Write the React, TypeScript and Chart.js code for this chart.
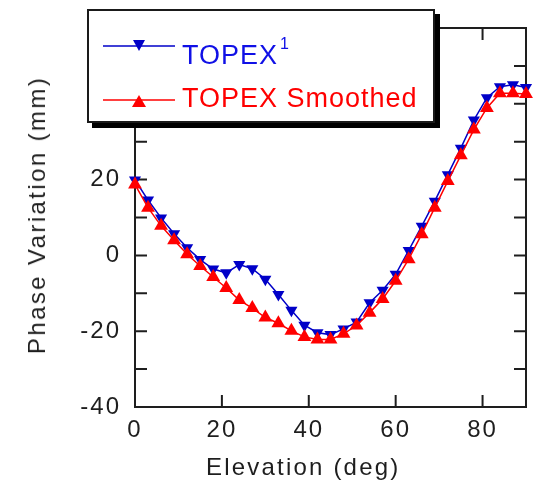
import React, { useEffect, useRef } from 'react';
import { Chart, registerables } from 'chart.js';

Chart.register(...registerables);

// ---- data ----
const elevation = [0, 3, 6, 9, 12, 15, 18, 21, 24, 27, 30, 33, 36, 39, 42, 45, 48, 51, 54, 57, 60, 63, 66, 69, 72, 75, 78, 81, 84, 87, 90];
const topex = [19.9, 14.6, 9.9, 5.7, 2.0, -1.1, -3.6, -4.6, -2.4, -3.5, -6.3, -10.3, -14.5, -18.4, -20.4, -20.9, -19.4, -17.6, -12.5, -9.2, -5.0, 1.3, 7.7, 14.3, 21.3, 28.3, 35.7, 41.6, 44.5, 45.0, 44.3];
const topexSmoothed = [18.7, 12.6, 7.8, 4.0, 0.3, -2.8, -5.7, -8.6, -11.8, -13.9, -16.4, -17.9, -19.9, -21.5, -22.2, -22.2, -20.7, -18.5, -15.1, -11.5, -6.7, -1.0, 5.6, 12.6, 19.6, 26.4, 33.2, 38.9, 42.8, 42.8, 42.6];
const xTickValues = [0, 20, 40, 60, 80];
const yTickValues = [-40, -30, -20, -10, 0, 10, 20, 30, 40, 50, 60];
const yTickLabels = [-40, -20, 0, 20];
const seriesNames = ['TOPEX', 'TOPEX Smoothed'];
const xTitle = 'Elevation (deg)';
const yTitle = 'Phase Variation (mm)';

const FONT = '"Liberation Sans", Arial, Helvetica, sans-serif';
const AXIS_COLOR = '#1e1e1e';
const BLUE = '#0000c8';
const BLUE_TEXT = '#1010e6';
const RED = '#ff0000';

const frameTicksPlugin = {
  id: 'frameTicks',
  beforeDraw(chart: any) {
    chart.ctx.letterSpacing = '2px';
  },
  beforeDatasetsDraw(chart: any) {
    const { ctx, chartArea, scales } = chart;
    const { left, right, top, bottom } = chartArea;
    const xs = scales.x;
    const ys = scales.y;
    const len = 12;
    ctx.save();
    ctx.strokeStyle = AXIS_COLOR;
    ctx.lineWidth = 2;
    ctx.strokeRect(left, top, right - left, bottom - top);
    ctx.beginPath();
    ys.ticks.forEach((t: any) => {
      const py = ys.getPixelForValue(t.value);
      ctx.moveTo(left, py);
      ctx.lineTo(left + len, py);
      ctx.moveTo(right, py);
      ctx.lineTo(right - len, py);
    });
    xs.ticks.forEach((t: any) => {
      const px = xs.getPixelForValue(t.value);
      ctx.moveTo(px, bottom);
      ctx.lineTo(px, bottom - len);
      ctx.moveTo(px, top);
      ctx.lineTo(px, top + len);
    });
    ctx.stroke();
    ctx.restore();
  },
};

export default function App() {
  const canvasRef = useRef<HTMLCanvasElement | null>(null);

  useEffect(() => {
    document.body.style.margin = '0';
    const canvas = canvasRef.current;
    if (!canvas) return;
    const chart = new Chart(canvas, {
      type: 'line',
      data: {
        datasets: [
          {
            label: seriesNames[0],
            data: elevation.map((x, i) => ({ x, y: topex[i] })),
            borderColor: BLUE,
            backgroundColor: BLUE,
            borderWidth: 1.5,
            pointStyle: 'triangle',
            pointRotation: 180,
            pointRadius: 7,
            pointBorderWidth: 0,
            pointBackgroundColor: BLUE,
            tension: 0,
            order: 1,
            clip: false,
          } as any,
          {
            label: seriesNames[1],
            data: elevation.map((x, i) => ({ x, y: topexSmoothed[i] })),
            borderColor: RED,
            backgroundColor: RED,
            borderWidth: 1.5,
            pointStyle: 'triangle',
            pointRadius: 8,
            pointBorderWidth: 0,
            pointBackgroundColor: RED,
            tension: 0,
            order: 0,
            clip: false,
          } as any,
        ],
      },
      options: {
        responsive: false,
        animation: false,
        devicePixelRatio: 1,
        layout: { padding: { left: 0, top: 28, right: 11, bottom: 0 } },
        plugins: {
          legend: { display: false },
          tooltip: { enabled: false },
        },
        scales: {
          x: {
            type: 'linear',
            min: 0,
            max: 90,
            afterBuildTicks: (s: any) => {
              s.ticks = xTickValues.map((v) => ({ value: v }));
            },
            afterFit: (s: any) => {
              s.height = 75;
            },
            grid: { display: false },
            border: { display: false },
            ticks: {
              autoSkip: false,
              maxRotation: 0,
              padding: 1,
              color: AXIS_COLOR,
              font: { family: FONT, size: 24 },
            },
            title: { display: false, text: xTitle },
          },
          y: {
            type: 'linear',
            min: -40,
            max: 60,
            afterBuildTicks: (s: any) => {
              s.ticks = yTickValues.map((v) => ({ value: v }));
            },
            afterFit: (s: any) => {
              s.width = 135;
            },
            grid: { display: false },
            border: { display: false },
            ticks: {
              autoSkip: false,
              padding: 6,
              color: AXIS_COLOR,
              font: { family: FONT, size: 24 },
              callback: (v: any) => (yTickLabels.includes(Number(v)) ? String(v) : ''),
            },
            title: { display: false, text: yTitle },
          },
        },
      } as any,
      plugins: [frameTicksPlugin],
    });
    return () => chart.destroy();
  }, []);

  const textStyle: React.CSSProperties = {
    position: 'absolute',
    left: 93,
    fontFamily: FONT,
    fontSize: 27,
    lineHeight: 1,
    letterSpacing: '1px',
    whiteSpace: 'nowrap',
  };

  const axisTitleStyle: React.CSSProperties = {
    position: 'absolute',
    fontFamily: FONT,
    fontSize: 24,
    lineHeight: 1,
    color: AXIS_COLOR,
    whiteSpace: 'nowrap',
  };

  return (
    <div style={{ position: 'relative', width: 537, height: 482, background: '#fff', overflow: 'hidden' }}>
      <canvas ref={canvasRef} width={537} height={482} style={{ position: 'absolute', left: 0, top: 0, width: 537, height: 482 }} />
      <div style={{ ...axisTitleStyle, left: 206, top: 455, letterSpacing: '2.2px' }}>{xTitle}</div>
      <div
        style={{
          ...axisTitleStyle,
          left: 37,
          top: 215,
          letterSpacing: '2.4px',
          transform: 'translate(-50%, -50%) rotate(-90deg)',
        }}
      >
        {yTitle}
      </div>
      <div
        style={{
          position: 'absolute',
          left: 87,
          top: 9,
          width: 348,
          height: 114,
          boxSizing: 'border-box',
          border: '2px solid #1a1a1a',
          boxShadow: '5px 5px 0 #000',
          background: '#fff',
        }}
      >
        <svg width={344} height={110} style={{ position: 'absolute', left: 0, top: 0 }}>
          <line x1={14} y1={35} x2={86} y2={35} stroke={BLUE} strokeWidth={1.5} />
          <polygon points="44,29 56,29 50,40" fill={BLUE} />
          <line x1={14} y1={89} x2={86} y2={89} stroke={RED} strokeWidth={1.5} />
          <polygon points="50,84 43,96 57,96" fill={RED} />
        </svg>
        <span style={{ ...textStyle, top: 31, color: BLUE_TEXT }}>
          {seriesNames[0]}
          <span style={{ fontSize: 16, position: 'relative', top: -15, marginLeft: 2 }}>1</span>
        </span>
        <span style={{ ...textStyle, top: 74, color: RED }}>{seriesNames[1]}</span>
      </div>
    </div>
  );
}
